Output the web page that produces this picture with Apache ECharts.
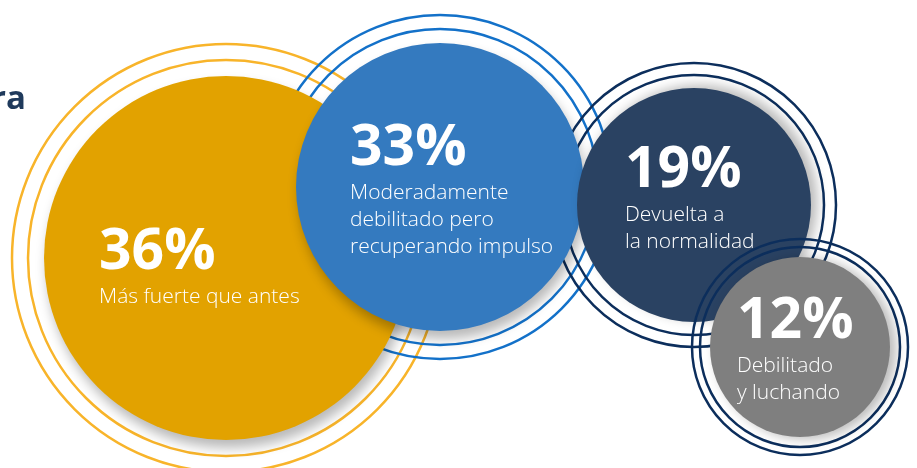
<!DOCTYPE html>
<html>
<head>
  <meta charset="UTF-8">
  <title>Circulos</title>
  <script src="https://cdn.jsdelivr.net/npm/echarts@6/dist/echarts.min.js"></script>
  <style type="text/css">
    html,body {padding: 0; margin: 0; background: #fff;}
    #chart {width: 917px; height: 468px;}
  </style>
</head>
<body>
  <div id="chart"></div>
  <script type="text/javascript">
    // datos
    var values = [36, 33, 19, 12];
    var labels = [
      'Más fuerte que antes',
      'Moderadamente\ndebilitado pero\nrecuperando impulso',
      'Devuelta a\nla normalidad',
      'Debilitado\ny luchando'
    ];

    // colores
    var fillColors = ['#e2a200', '#347abf', '#2a4262', '#7f7f7f'];
    var ringColors = ['#f8b42a', '#1371c9', '#0c2e5c', '#0c2e5c'];

    // layout (px): centro, radio del circulo, radios de los aros, texto
    var layout = [
      {cx: 226, cy: 258, r: 182, rings: [198, 214], tx: 99,  ty: 222, sx: 3, sy: 8, layer: 0},
      {cx: 440, cy: 187, r: 144, rings: [158, 172], tx: 350, ty: 118, sx: 3, sy: 8, layer: 0},
      {cx: 694, cy: 205, r: 117, rings: [130, 142], tx: 625, ty: 140, sx: 6, sy: -3, layer: 0},
      {cx: 800, cy: 347, r: 90,  rings: [100, 108], tx: 737, ty: 291, sx: 6, sy: 2, layer: 1}
    ];

    var series = [];
    values.forEach(function (v, i) {
      var l = layout[i];
      l.rings.forEach(function (rr) {
        series.push({
          type: 'scatter', silent: true, z: 1 + l.layer * 2,
          symbol: 'circle', symbolSize: rr * 2,
          itemStyle: {color: 'rgba(0,0,0,0)', borderColor: ringColors[i], borderWidth: 2.5, opacity: 1},
          data: [[l.cx, l.cy]]
        });
      });
    });
    values.forEach(function (v, i) {
      var l = layout[i];
      series.push({
        type: 'scatter', silent: true, z: 2 + l.layer * 2,
        symbol: 'circle', symbolSize: l.r * 2,
        itemStyle: {
          color: fillColors[i], opacity: 1,
          shadowColor: 'rgba(0,0,0,0.28)', shadowBlur: 12,
          shadowOffsetX: l.sx, shadowOffsetY: l.sy
        },
        label: {
          show: true,
          position: [l.tx - (l.cx - l.r), l.ty - (l.cy - l.r)],
          align: 'left', verticalAlign: 'top',
          formatter: function () {
            return '{p|' + v + '%}\n' + labels[i].split('\n').map(function (s) { return '{t|' + s + '}'; }).join('\n');
          },
          rich: {
            p: {fontFamily: 'Open Sans', fontWeight: 'bold', fontSize: 57, lineHeight: 62, color: '#fff'},
            t: {fontFamily: 'Open Sans', fontWeight: 300, fontSize: 21, lineHeight: 27, color: '#fff'}
          }
        },
        data: [[l.cx, l.cy, v]]
      });
    });

    var myChart = echarts.init(document.getElementById('chart'));
    myChart.setOption({
      animation: false,
      grid: {left: 0, right: 0, top: 0, bottom: 0},
      xAxis: {type: 'value', min: 0, max: 917, show: false},
      yAxis: {type: 'value', min: 0, max: 468, inverse: true, show: false},
      graphic: [{
        type: 'text', left: -9, top: 83,
        style: {text: 'ra', fontFamily: 'Open Sans', fontWeight: 'bold', fontSize: 33, fill: '#1f3a5c'}
      }],
      series: series
    });
  </script>
</body>
</html>
